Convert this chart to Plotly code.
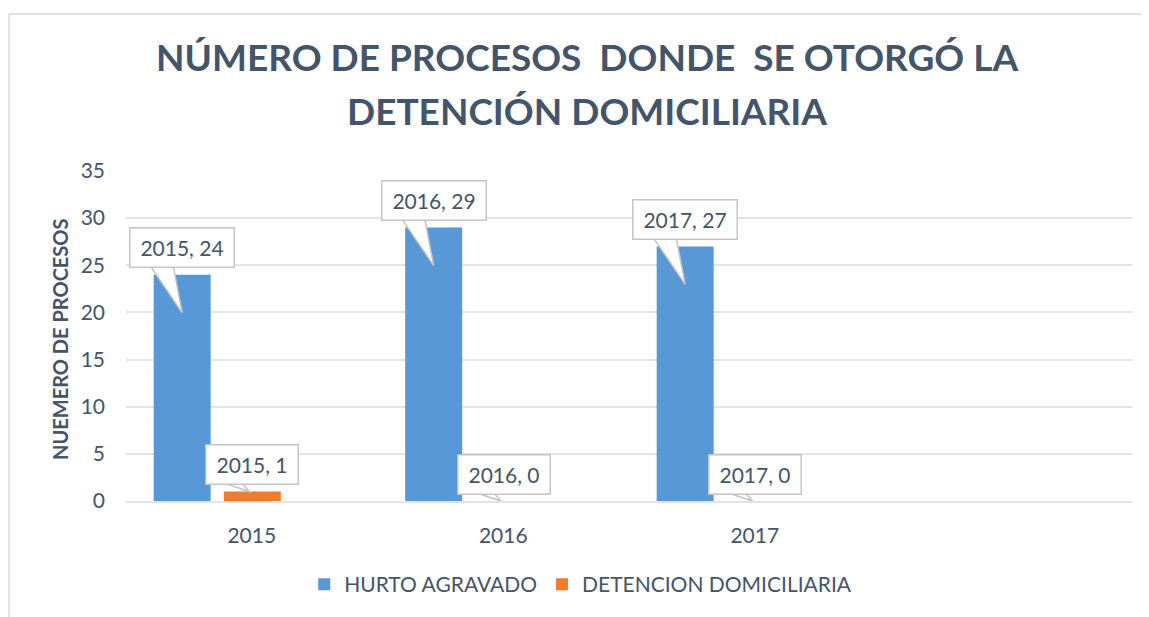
import plotly.graph_objects as go

# ---- data ----
anios = ["2015", "2016", "2017"]
hurto_agravado = [24, 29, 27]
detencion_domiciliaria = [1, 0, 0]
serie_nombres = ["HURTO AGRAVADO", "DETENCION DOMICILIARIA"]
y_ticks = [0, 5, 10, 15, 20, 25, 30, 35]
titulo_lineas = ["NÚMERO DE PROCESOS\u00a0\u00a0DONDE\u00a0\u00a0SE OTORGÓ LA", "DETENCIÓN DOMICILIARIA"]
titulo_eje_y = "NUEMERO DE PROCESOS"

TXT = "#44546a"
FONT = "Lato"
BLUE = "#5898d6"
ORANGE = "#ef7b2d"
GRID = "#e1e4e9"
CALLOUT_LINE = "#c4c4c4"

idx = list(range(len(anios)))
bar_w = 0.2266
off_blue = -0.39
off_orange = -0.111

fig = go.Figure()
fig.add_trace(go.Bar(
    x=idx, y=hurto_agravado, name=serie_nombres[0],
    marker=dict(color=BLUE, line=dict(width=0)),
    width=bar_w, offset=off_blue, hoverinfo="skip"))
fig.add_trace(go.Bar(
    x=idx, y=detencion_domiciliaria, name=serie_nombres[1],
    marker=dict(color=ORANGE, line=dict(width=0)),
    width=bar_w, offset=off_orange, hoverinfo="skip"))

annotations = []
shapes = []

def callout(xpos, val, label, box_shift, tail_path):
    # tail (wedge) in pixels relative to the bar top
    shapes.append(dict(
        type="path", xref="x", yref="y", xsizemode="pixel", ysizemode="pixel",
        xanchor=xpos, yanchor=val, path=tail_path,
        fillcolor="white", line=dict(color=CALLOUT_LINE, width=1.5), layer="above"))
    annotations.append(dict(
        x=xpos, y=val, xref="x", yref="y", text=label,
        showarrow=False, xanchor="center", yanchor="middle", yshift=box_shift,
        bgcolor="white", bordercolor=CALLOUT_LINE, borderwidth=1.5,
        width=12 * len(label) + 5, height=36,
        font=dict(family=FONT, size=21, color=TXT)))

for i, a in enumerate(anios):
    callout(i + off_blue + bar_w / 2, hurto_agravado[i], f"{a}, {hurto_agravado[i]}",
            27, "M -32,9 L 0,-38 L -9,9 Z")
    callout(i + off_orange + bar_w / 2, detencion_domiciliaria[i], f"{a}, {detencion_domiciliaria[i]}",
            27, "M -30,9 L -3,0 L -11,9 Z")

# title lines
for line, ypos in zip(titulo_lineas, [1.346, 1.182]):
    annotations.append(dict(
        x=0.458, y=ypos, xref="paper", yref="paper", text=f"<b>{line}</b>",
        showarrow=False, xanchor="center", yanchor="middle",
        font=dict(family=FONT, size=37, color=TXT)))

# y-axis title
annotations.append(dict(
    x=-0.0656, y=0.488, xref="paper", yref="paper", text=f"<b>{titulo_eje_y}</b>",
    showarrow=False, textangle=-90,
    font=dict(family=FONT, size=20, color=TXT), xanchor="center", yanchor="middle"))

# chart frame (top and left edges visible)
shapes.append(dict(type="line", xref="paper", yref="paper", x0=-0.1163, x1=1.3, y0=1.476, y1=1.476,
                   line=dict(color="#d9d9d9", width=1.5), layer="below"))
shapes.append(dict(type="line", xref="paper", yref="paper", x0=-0.1163, x1=-0.1163, y0=-0.5, y1=1.476,
                   line=dict(color="#d9d9d9", width=1.5), layer="below"))

fig.update_layout(
    width=1141, height=609,
    margin=dict(l=118, r=17, t=163, b=114),
    paper_bgcolor="white", plot_bgcolor="white",
    barmode="overlay",
    xaxis=dict(
        tickmode="array", tickvals=idx, ticktext=anios,
        range=[-0.5, 3.5], showgrid=False, zeroline=False,
        showline=True, linecolor=GRID, linewidth=1.5,
        ticks="", ticklabelstandoff=15,
        tickfont=dict(family=FONT, size=21, color=TXT)),
    yaxis=dict(
        range=[0, 35], tickvals=y_ticks, showgrid=True, gridcolor=GRID, gridwidth=1.5,
        zeroline=False, showline=False, ticks="", ticklabelstandoff=20,
        tickfont=dict(family=FONT, size=21, color=TXT)),
    legend=dict(
        orientation="h", x=0.452, xanchor="center", y=-0.253, yanchor="middle",
        font=dict(family=FONT, size=21, color=TXT), itemwidth=30,
        traceorder="normal"),
    annotations=annotations,
    shapes=shapes,
    showlegend=True,
)

fig.write_html("out.html")
